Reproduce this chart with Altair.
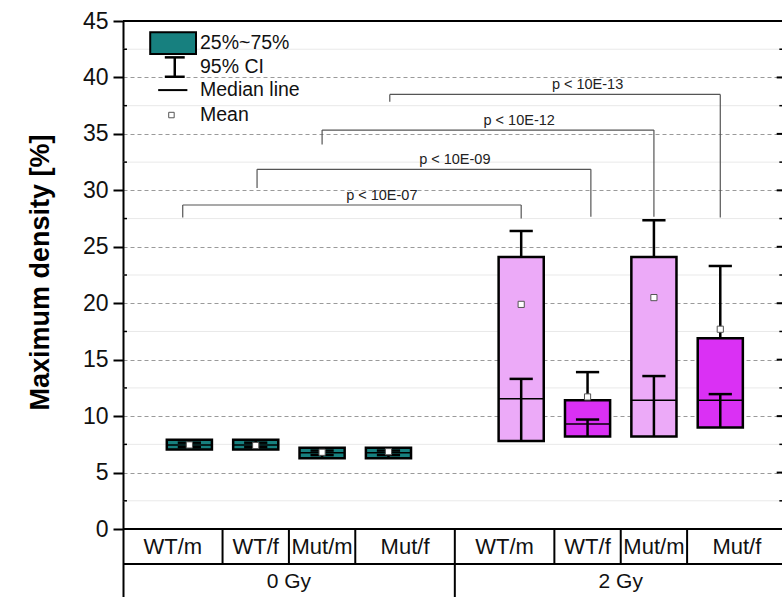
import altair as alt
import pandas as pd

# ---------------- data ----------------
groups = ["WT/m", "WT/f", "Mut/m", "Mut/f", "WT/m", "WT/f", "Mut/m", "Mut/f"]
doses = ["0 Gy", "0 Gy", "0 Gy", "0 Gy", "2 Gy", "2 Gy", "2 Gy", "2 Gy"]
positions = [1, 2, 3, 4, 6, 7, 8, 9]
color_keys = ["0 Gy", "0 Gy", "0 Gy", "0 Gy", "2 Gy m", "2 Gy f", "2 Gy m", "2 Gy f"]
q1 = [7.05, 7.05, 6.28, 6.28, 7.8, 8.2, 8.2, 9.0]
q3 = [7.9, 7.9, 7.2, 7.2, 24.1, 11.4, 24.1, 16.9]
median = [7.45, 7.45, 6.75, 6.75, 11.55, 9.3, 11.4, 11.4]
mean = [7.45, 7.4, 6.8, 6.85, 19.9, 11.7, 20.5, 17.7]
ci_low = [7.25, 7.25, 6.55, 6.55, 13.3, 9.7, 13.55, 11.95]
ci_high = [7.65, 7.65, 6.95, 6.95, 26.4, 13.9, 27.35, 23.3]

label_pos = [0.75, 2, 3, 4.25, 5.75, 7, 8, 9.25]
dose_labels = ["0 Gy", "2 Gy"]
dose_pos = [2.5, 7.5]
cell_seps = [1.5, 2.5, 3.5, 6.5, 7.5, 8.5]

br_left = [0.9, 2.02, 3.0, 4.02]
br_right = [6.0, 7.05, 8.0, 9.0]
br_top = [28.7, 31.86, 35.34, 38.5]
br_left_bottom = [27.6, 30.2, 34.07, 37.85]
br_right_bottom = [27.5, 27.66, 27.66, 27.6]
br_text = ["p < 10E-07", "p < 10E-09", "p < 10E-12", "p < 10E-13"]
br_text_x = [3.9, 5.0, 5.97, 7.0]

major_ticks = [0, 5, 10, 15, 20, 25, 30, 35, 40, 45]
minor_ticks = [2.5, 7.5, 12.5, 17.5, 22.5, 27.5, 32.5, 37.5, 42.5]

legend_text = ["25%~75%", "95% CI", "Median line", "Mean"]
legend_y = [43.02, 40.95, 38.88, 36.67]

# ---------------- styling ----------------
FONT = "Liberation Sans"
XMAX = 9.93
YMIN = -6.02
XS = alt.Scale(domain=[0, XMAX], nice=False, zero=False)
YS = alt.Scale(domain=[YMIN, 45], nice=False, zero=False)
YAX = alt.Axis(
    values=major_ticks, title="Maximum density [%]", grid=True,
    gridDash=[4, 3], gridColor="#9a9a9a", gridWidth=1,
    domainColor="black", domainWidth=2, tickColor="black", tickWidth=2,
    tickSize=10, labelFont=FONT, labelFontSize=23, labelColor="#111",
    labelPadding=5, titleFont=FONT, titleFontSize=27, titleFontWeight="bold",
    titleColor="black", titlePadding=28, titleY=251,
)
COL = alt.Scale(domain=["0 Gy", "2 Gy m", "2 Gy f"],
                range=["#17807f", "#ecaaf8", "#da30f4"])


def xq(f):
    return alt.X(f"{f}:Q", scale=XS, axis=None)


def yq(f):
    return alt.Y(f"{f}:Q", scale=YS, axis=YAX)


box = pd.DataFrame(dict(group=groups, dose=doses, pos=positions, key=color_keys,
                        q1=q1, q3=q3, median=median, mean=mean,
                        ci_low=ci_low, ci_high=ci_high))
box["left"] = box["pos"] - 0.34
box["right"] = box["pos"] + 0.34
box["capl"] = box["pos"] - 0.175
box["capr"] = box["pos"] + 0.175

layers = []

# minor grid lines
minor = pd.DataFrame(dict(y=minor_ticks, x0=0, x1=XMAX))
layers.append(alt.Chart(minor).mark_rule(color="#e9e9e9", strokeWidth=1).encode(
    x=xq("x0"), x2="x1", y=yq("y")))

# boxes
layers.append(alt.Chart(box).mark_rect(stroke="black", strokeWidth=2.5).encode(
    x=xq("left"), x2="right", y=yq("q1"), y2="q3",
    color=alt.Color("key:N", scale=COL, legend=None)))
# median line
layers.append(alt.Chart(box).mark_rule(color="black", strokeWidth=1.5).encode(
    x=xq("left"), x2="right", y=yq("median")))
# whiskers
layers.append(alt.Chart(box).mark_rule(color="black", strokeWidth=2.5).encode(
    x=xq("pos"), y=yq("q3"), y2="ci_high"))
layers.append(alt.Chart(box).mark_rule(color="black", strokeWidth=2.5).encode(
    x=xq("pos"), y=yq("q1"), y2="ci_low"))
layers.append(alt.Chart(box).mark_rule(color="black", strokeWidth=2.5).encode(
    x=xq("capl"), x2="capr", y=yq("ci_high")))
layers.append(alt.Chart(box).mark_rule(color="black", strokeWidth=2.5).encode(
    x=xq("capl"), x2="capr", y=yq("ci_low")))
# mean
layers.append(alt.Chart(box).mark_point(shape="square", filled=True, fill="white",
                                        stroke="#555", strokeWidth=1, size=38, opacity=1).encode(
    x=xq("pos"), y=yq("mean")))

# significance brackets
br = pd.DataFrame(dict(l=br_left, r=br_right, top=br_top, lb=br_left_bottom,
                       rb=br_right_bottom, text=br_text, tx=br_text_x))
layers.append(alt.Chart(br).mark_rule(color="#555", strokeWidth=1.2).encode(
    x=xq("l"), x2="r", y=yq("top")))
layers.append(alt.Chart(br).mark_rule(color="#555", strokeWidth=1.2).encode(
    x=xq("l"), y=yq("top"), y2="lb"))
layers.append(alt.Chart(br).mark_rule(color="#555", strokeWidth=1.2).encode(
    x=xq("r"), y=yq("top"), y2="rb"))
layers.append(alt.Chart(br).mark_text(font=FONT, fontSize=14.5, baseline="bottom",
                                      dy=-2, color="#222").encode(
    x=xq("tx"), y=yq("top"), text="text:N"))

# frame top and zero line
frame = pd.DataFrame(dict(y=[45, 0], x0=0, x1=XMAX))
layers.append(alt.Chart(frame).mark_rule(color="black", strokeWidth=2).encode(
    x=xq("x0"), x2="x1", y=yq("y")))

# category table under the plot
row_sep = pd.DataFrame(dict(y=[-3.1], x0=0, x1=XMAX))
layers.append(alt.Chart(row_sep).mark_rule(color="black", strokeWidth=2).encode(
    x=xq("x0"), x2="x1", y=yq("y")))
seps = pd.DataFrame(dict(x=cell_seps, y0=0, y1=-3.1))
layers.append(alt.Chart(seps).mark_rule(color="black", strokeWidth=2).encode(
    x=xq("x"), y=yq("y0"), y2="y1"))
mid_sep = pd.DataFrame(dict(x=[5], y0=0, y1=YMIN))
layers.append(alt.Chart(mid_sep).mark_rule(color="black", strokeWidth=2).encode(
    x=xq("x"), y=yq("y0"), y2="y1"))
cat = pd.DataFrame(dict(x=label_pos, text=groups, y=-1.57))
layers.append(alt.Chart(cat).mark_text(font=FONT, fontSize=22, baseline="middle",
                                       color="#111").encode(
    x=xq("x"), y=yq("y"), text="text:N"))
dose_df = pd.DataFrame(dict(x=dose_pos, text=dose_labels, y=-4.65))
layers.append(alt.Chart(dose_df).mark_text(font=FONT, fontSize=21, baseline="middle",
                                           color="#111").encode(
    x=xq("x"), y=yq("y"), text="text:N"))

# side ticks (minor left inward, right inward)
lminor = pd.DataFrame(dict(y=minor_ticks, x0=0, x1=0.06))
layers.append(alt.Chart(lminor).mark_rule(color="black", strokeWidth=1.5).encode(
    x=xq("x0"), x2="x1", y=yq("y")))
rmajor = pd.DataFrame(dict(y=major_ticks[1:-1], x0=XMAX - 0.08, x1=XMAX))
layers.append(alt.Chart(rmajor).mark_rule(color="black", strokeWidth=2).encode(
    x=xq("x0"), x2="x1", y=yq("y")))
rminor = pd.DataFrame(dict(y=minor_ticks, x0=XMAX - 0.04, x1=XMAX))
layers.append(alt.Chart(rminor).mark_rule(color="black", strokeWidth=1.5).encode(
    x=xq("x0"), x2="x1", y=yq("y")))

# legend
lg_box = pd.DataFrame(dict(x0=[0.41], x1=[1.10], y0=[42.07], y1=[44.0], key=["0 Gy"]))
layers.append(alt.Chart(lg_box).mark_rect(stroke="black", strokeWidth=2).encode(
    x=xq("x0"), x2="x1", y=yq("y0"), y2="y1",
    color=alt.Color("key:N", scale=COL, legend=None)))
lg_ci = pd.DataFrame(dict(x=[0.78], y0=[40.06], y1=[41.78]))
layers.append(alt.Chart(lg_ci).mark_rule(color="black", strokeWidth=2.5).encode(
    x=xq("x"), y=yq("y0"), y2="y1"))
lg_caps = pd.DataFrame(dict(x0=[0.63, 0.63], x1=[0.93, 0.93], y=[40.06, 41.78]))
layers.append(alt.Chart(lg_caps).mark_rule(color="black", strokeWidth=2.5).encode(
    x=xq("x0"), x2="x1", y=yq("y")))
lg_med = pd.DataFrame(dict(x0=[0.53], x1=[0.97], y=[38.88]))
layers.append(alt.Chart(lg_med).mark_rule(color="black", strokeWidth=2).encode(
    x=xq("x0"), x2="x1", y=yq("y")))
lg_mean = pd.DataFrame(dict(x=[0.73], y=[36.67]))
layers.append(alt.Chart(lg_mean).mark_point(shape="square", filled=True, fill="white",
                                            stroke="#555", strokeWidth=1, size=30, opacity=1).encode(
    x=xq("x"), y=yq("y")))
lg_txt = pd.DataFrame(dict(text=legend_text, y=legend_y, x=1.16))
layers.append(alt.Chart(lg_txt).mark_text(font=FONT, fontSize=19.5, align="left",
                                          baseline="middle", color="#111").encode(
    x=xq("x"), y=yq("y"), text="text:N"))

chart = alt.layer(*layers).properties(
    width=659, height=576,
    autosize=alt.AutoSizeParams(type="none"),
    padding={"left": 123, "top": 21, "right": 0, "bottom": 0},
).configure_view(stroke=None).configure(background="white")

chart.save("out.html", embed_options={"renderer": "svg", "actions": False})
